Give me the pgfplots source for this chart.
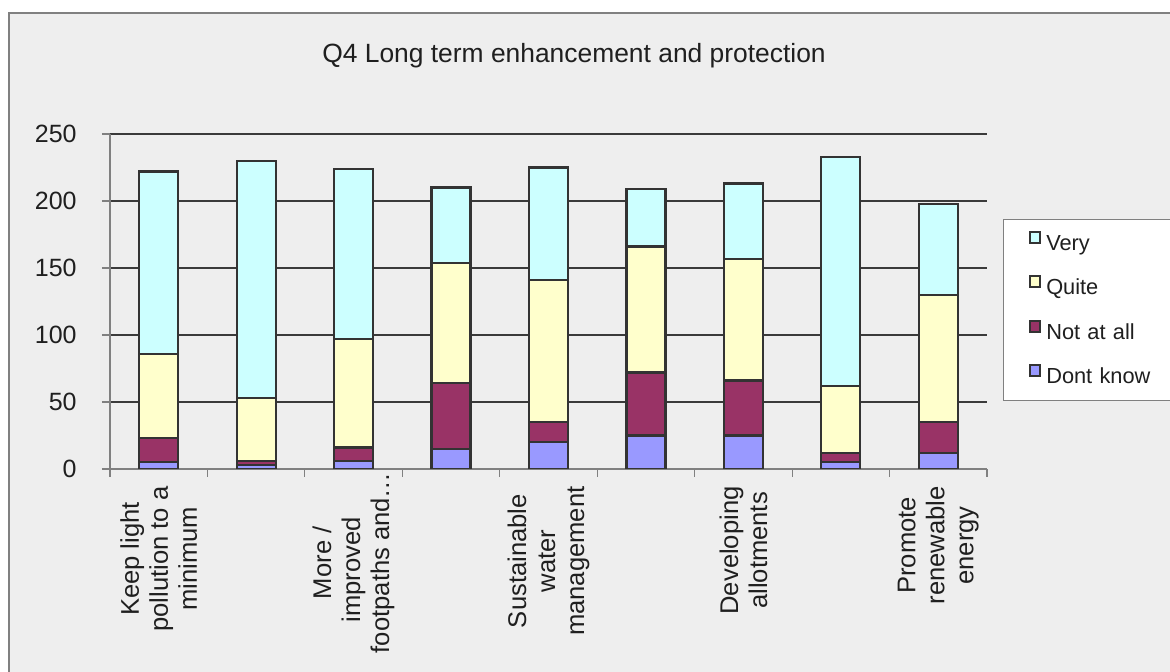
\documentclass[border=0pt]{standalone}
\usepackage{fontspec}
\setmainfont{Liberation Sans}
\usepackage{pgfplots}
\pgfplotsset{compat=1.18}
\definecolor{bgc}{HTML}{EEEEEE}
\definecolor{cVery}{HTML}{CCFFFF}
\definecolor{cQuite}{HTML}{FFFFCC}
\definecolor{cNot}{HTML}{993366}
\definecolor{cDK}{HTML}{9999FF}
\definecolor{edge}{HTML}{333333}
\definecolor{txt}{HTML}{1F1F1F}
\definecolor{axisc}{HTML}{808080}
\definecolor{gridc}{HTML}{3A3A3A}
\begin{document}
\begin{tikzpicture}
\path[use as bounding box] (0,0) rectangle (585pt,336pt);
\fill[white] (0,0) rectangle (585pt,336pt);
\draw[axisc, fill=bgc, line width=0.6pt] (4.5pt,329.5pt) rectangle (600pt,-20pt);
\node[anchor=base, font=\fontsize{13.2}{15}\selectfont, text=txt] at (287pt,304.5pt) {Q4 Long term enhancement and protection};
\begin{axis}[
  at={(55pt,101.5pt)}, anchor=south west,
  scale only axis, width=438.5pt, height=167.5pt,
  ybar stacked, bar width=19.5pt,
  xmin=-0.5, xmax=8.5, ymin=0, ymax=250,
  ytick={0,50,100,150,200,250},
  xtick={-0.5,0.5,1.5,2.5,3.5,4.5,5.5,6.5,7.5,8.5}, xticklabels={},
  extra x ticks={0,1,2,3,4,5,6,7,8},
  extra x tick labels={{Keep light\\pollution to a\\minimum},{},{More /\hspace*{-7pt}\\improved\hspace*{-7pt}\\footpaths and…\hspace*{-7pt}},{},{Sustainable\\water\\management},{},{Developing\\allotments},{},{Promote\\renewable\\energy}},
  extra x tick style={major tick length=0pt},
  axis x line*=bottom, axis y line*=left,
  axis line style={draw=axisc, line width=0.6pt},
  tick style={draw=axisc, line width=0.6pt},
  tick align=outside, major tick length=4pt,
  ymajorgrids, grid style={draw=gridc, line width=0.55pt},
  /pgf/number format/assume math mode=true,
  yticklabel style={font=\fontsize{12.5}{15}\selectfont, text=txt, inner sep=0pt, xshift=-12.5pt},
  xticklabel style={rotate=90, anchor=east, align=center, inner xsep=8.5pt, inner ysep=0pt, font=\fontsize{12.8}{14.5}\selectfont, text=txt},
  legend style={at={(1.0182,0.7463)}, anchor=north west, draw=axisc, fill=white, line width=0.6pt,
    font=\fontsize{10.9}{13}\selectfont, text=txt, inner xsep=12.5pt, inner ysep=5.75pt,
    row sep=10pt, column sep=2.5pt, text width=64pt,
    nodes={inner sep=0pt, text height=8pt, text depth=2.5pt}},
  legend cell align=left,
  reverse legend,
]
\pgfplotsset{leg/.style={legend image code/.code={\draw[##1, line width=1pt] (0.5pt,1.1pt) rectangle (5.85pt,6.45pt);}}}
\addplot[fill=cDK, draw=edge, line width=1.1pt, leg] coordinates {(0,5) (1,3) (2,6) (3,15) (4,20) (5,25) (6,25) (7,5) (8,12)};
\addplot[fill=cNot, draw=edge, line width=1.1pt, leg] coordinates {(0,18) (1,3) (2,10) (3,49) (4,15) (5,47) (6,41) (7,7) (8,23)};
\addplot[fill=cQuite, draw=edge, line width=1.1pt, leg] coordinates {(0,63) (1,47) (2,81) (3,90) (4,106) (5,94) (6,91) (7,50) (8,95)};
\addplot[fill=cVery, draw=edge, line width=1.1pt, leg] coordinates {(0,136) (1,177) (2,127) (3,56) (4,84) (5,43) (6,56) (7,171) (8,68)};
\legend{Dont know, Not at all, Quite, Very}
\end{axis}
\end{tikzpicture}
\end{document}
